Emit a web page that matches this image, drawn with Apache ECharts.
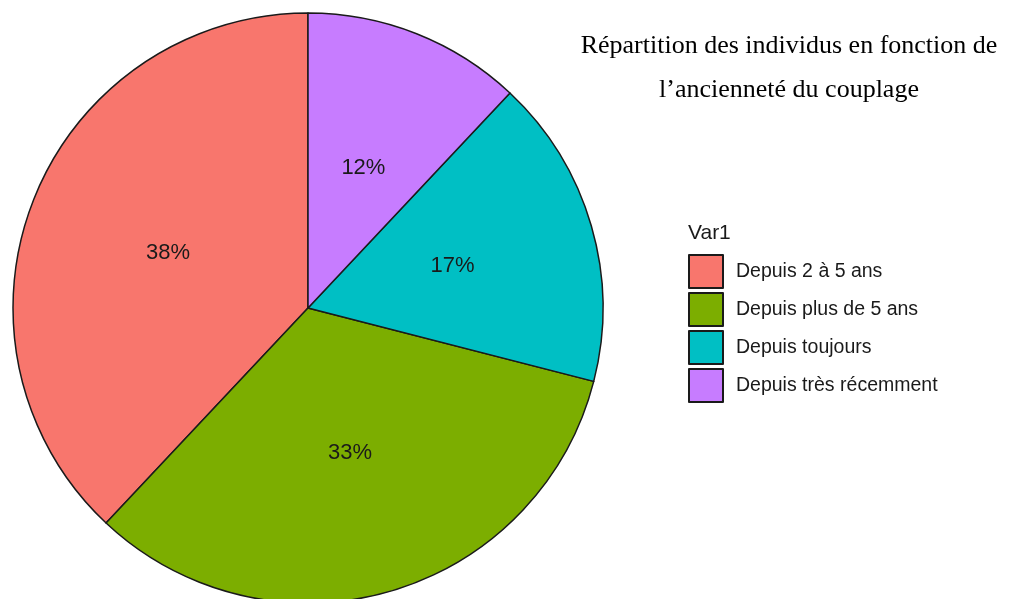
<!DOCTYPE html>
<html>
<head>
<meta charset="utf-8">
<script src="https://cdn.jsdelivr.net/npm/echarts@6/dist/echarts.min.js"></script>
<style>
  html, body { margin: 0; padding: 0; background: #fff; }
  #chart { width: 1019px; height: 599px; }
</style>
</head>
<body>
<div id="chart"></div>
<script>
const categories = ['Depuis 2 à 5 ans', 'Depuis plus de 5 ans', 'Depuis toujours', 'Depuis très récemment'];
const values = [38, 33, 17, 12];
const colors = ['#F8766D', '#7CAE00', '#00BFC4', '#C77CFF'];

const chart = echarts.init(document.getElementById('chart'));

const option = {
  animation: false,
  title: {
    text: 'Répartition des individus en fonction de\nl\u2019ancienneté du couplage',
    left: 789,
    top: 24,
    padding: 0,
    textAlign: 'center',
    textStyle: {
      fontFamily: 'Liberation Serif',
      fontWeight: 'normal',
      fontSize: 26,
      color: '#000',
      lineHeight: 44,
      align: 'center'
    }
  },
  graphic: [{
    type: 'text',
    left: 688,
    top: 223,
    style: {
      text: 'Var1',
      font: '21px "Liberation Sans"',
      fill: '#1a1a1a'
    }
  }],
  legend: {
    orient: 'vertical',
    left: 688,
    top: 254,
    padding: 0,
    itemWidth: 34,
    itemHeight: 33,
    itemGap: 3,
    icon: 'rect',
    textStyle: {
      fontFamily: 'Liberation Sans',
      fontSize: 19.5,
      color: '#1a1a1a',
      padding: [0, 0, 0, 8]
    },
    data: categories
  },
  series: [{
    type: 'pie',
    center: [308, 308],
    radius: [0, 295],
    startAngle: 90,
    clockwise: false,
    silent: true,
    data: categories.map((c, i) => ({
      name: c,
      value: values[i],
      itemStyle: { color: colors[i] }
    })),
    itemStyle: {
      borderColor: '#1a1a1a',
      borderWidth: 1.5
    },
    label: {
      show: true,
      position: 'inside',
      formatter: p => p.value + '%',
      fontFamily: 'Liberation Sans',
      fontSize: 22,
      color: '#1a1a1a'
    },
    labelLine: { show: false }
  }]
};

chart.setOption(option);
</script>
</body>
</html>
